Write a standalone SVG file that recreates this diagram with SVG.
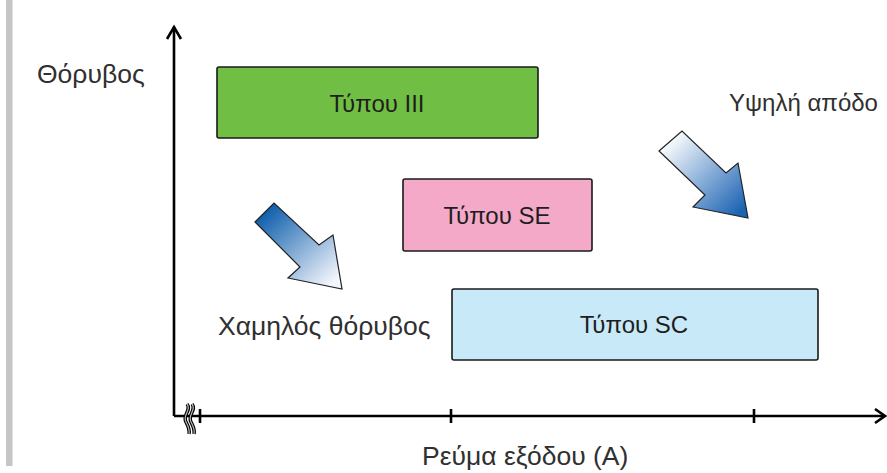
<svg xmlns="http://www.w3.org/2000/svg" width="887" height="473" viewBox="0 0 887 473">
<defs>
<style>
.lbl{font-family:"Liberation Sans",Arial,sans-serif;font-size:26.5px;fill:#303030}
.box{stroke:#1a1a1a;stroke-width:1.6}
.btxt{font-family:"Liberation Sans",Arial,sans-serif;font-size:24px;fill:#1e1e1e;text-anchor:middle}
.axis{stroke:#000;stroke-width:2.6;fill:none}
.arr{stroke:#222;stroke-width:1.2;stroke-linejoin:miter}
</style>
<linearGradient id="gDown" gradientUnits="userSpaceOnUse" x1="262" y1="212" x2="330" y2="285">
<stop offset="0" stop-color="#0b5cab"/>
<stop offset="1" stop-color="#f3f6fc"/>
</linearGradient>
<linearGradient id="gUp" gradientUnits="userSpaceOnUse" x1="666" y1="141" x2="740" y2="214">
<stop offset="0" stop-color="#ffffff"/>
<stop offset="1" stop-color="#1a62b3"/>
</linearGradient>
</defs>
<rect x="6" y="0" width="6.5" height="466" fill="#c6c6c6"/>
<g id="connectors">
<path class="axis" d="M174,416 V27"/>
<path class="axis" d="M167,39 L174,27 L181,39"/>
<path class="axis" d="M174,416 H884"/>
<path class="axis" d="M875,409 L885,416 L875,423"/>
<path class="axis" d="M200,409 V423 M451,409 V423 M754,409 V423" stroke-width="2"/>
<path d="M187,404 c5,6 -5,11 -1,18 c2,4 4,7 3,12" fill="none" stroke="#000" stroke-width="3.5"/>
<path d="M187,404 c5,6 -5,11 -1,18 c2,4 4,7 3,12" fill="none" stroke="#bbb" stroke-width="1.2"/>
<path d="M192,404 c5,6 -5,11 -1,18 c2,4 4,7 3,12" fill="none" stroke="#000" stroke-width="3.5"/>
<path d="M192,404 c5,6 -5,11 -1,18 c2,4 4,7 3,12" fill="none" stroke="#bbb" stroke-width="1.2"/>
<polygon class="arr" fill="url(#gDown)" points="255,222 274,203 319,245 333,235 342,289 288,278 300,267"/>
<polygon class="arr" fill="url(#gUp)" points="659,151 682,131 726,173 738,163 748,218 693,207 705,195"/>
</g>
<g id="type3">
<rect class="box" x="217" y="67" width="321" height="71" rx="2" fill="#70bf44"/>
<text class="btxt" x="377" y="112">Τύπου ΙΙΙ</text>
</g>
<g id="typeSE">
<rect class="box" x="403" y="179" width="189" height="72" rx="2" fill="#f5a9c9"/>
<text class="btxt" x="497" y="224">Τύπου SE</text>
</g>
<g id="typeSC">
<rect class="box" x="452" y="289" width="366" height="71" rx="2" fill="#c8e9f8"/>
<text class="btxt" x="634" y="333">Τύπου SC</text>
</g>
<text class="lbl" x="37" y="83">Θόρυβος</text>
<text class="lbl" x="729" y="111" style="font-size:24px">Υψηλή απόδο</text>
<text class="lbl" x="218" y="335">Χαμηλός θόρυβος</text>
<text class="lbl" x="422" y="465">Ρεύμα εξόδου (Α)</text>
</svg>
